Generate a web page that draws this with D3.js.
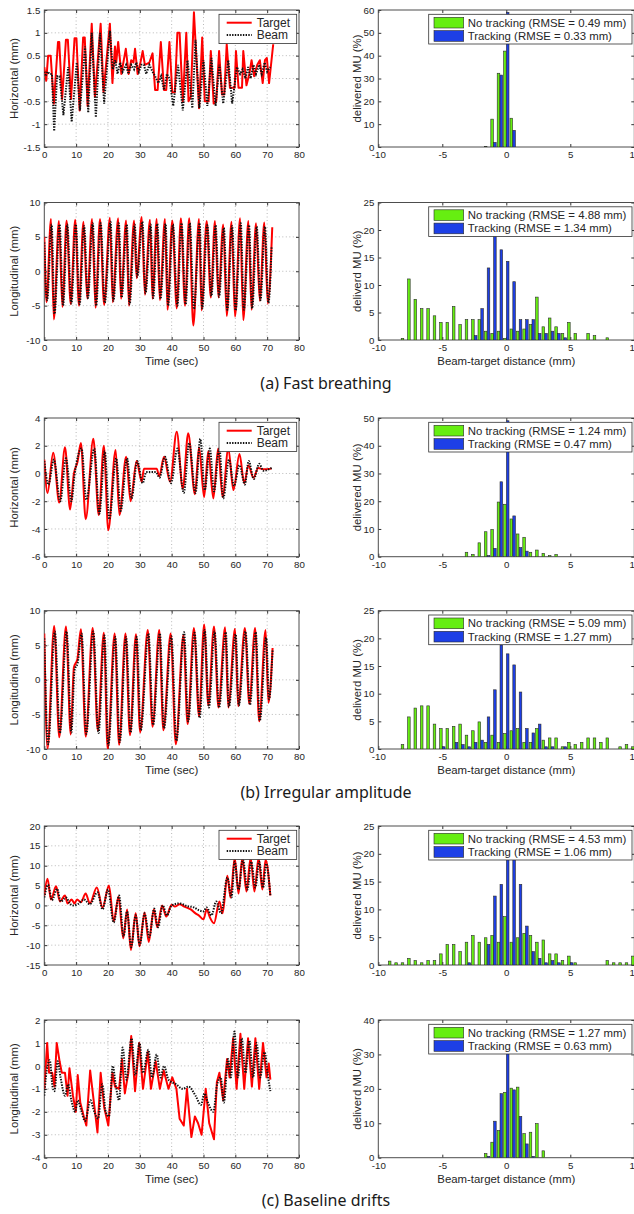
<!DOCTYPE html>
<html>
  <head>
    <meta charset="utf-8">
    <style>
      body { margin: 0; background: #fff; }
      text { font-family: Arial, "Liberation Sans", sans-serif; fill: #262626; }
      .caption { font-family: "Noto Sans", sans-serif; font-size: 16px; fill: #1a1a1a; }
      .grid { stroke: #b8b8b8; stroke-width: 1; stroke-dasharray: 1,2.5; }
    </style>
    <script src="https://cdnjs.cloudflare.com/ajax/libs/d3/7.8.5/d3.min.js" type="text/javascript"></script>
  </head>
  <body>
    <svg width="634" height="1214" id="SVG"></svg>
    <script>
      // shared axis ticks and labels
      var timeTicks = [0, 10, 20, 30, 40, 50, 60, 70, 80];
      var distTicks = [-10, -5, 0, 5, 10];
      var captions = ["(a) Fast breathing", "(b) Irregular amplitude", "(c) Baseline drifts"];
      var motionLabels = ["Horizontal (mm)", "Longitudinal (mm)"];
      var muLabels = ["delivered MU (%)", "deliverd MU (%)"];
      var seriesNames = ["Target", "Beam"];

      // (a) fast breathing, horizontal [time, mm]
      var fastHorTicks = [-1.5, -1, -0.5, 0, 0.5, 1, 1.5];
      var fastHorTarget = [[0,0.25],[0.6,-0.05],[1.2,0.5],[2.0,0.5],[3.0,-0.55],[4.3,0.8],[4.7,0.8],[5.6,-0.45],[6.8,0.85],[7.4,0.85],[8.4,-0.45],[9.5,0.88],[10.1,0.88],[11.1,-0.7],[12.2,0.9],[12.7,0.9],[13.6,-0.6],[14.9,1.2],[15.9,-0.4],[17.7,1.2],[18.6,-0.3],[20.6,1.2],[21.4,-0.1],[22.2,0.7],[22.6,0.35],[23.2,0.8],[24.2,0.1],[25.6,0.65],[26.5,0.1],[27.3,0.4],[28.0,0.35],[28.5,0.65],[29.3,0.1],[30.2,0.35],[30.9,0.6],[31.6,0.3],[33.0,0.35],[34.0,0.55],[34.8,-0.25],[35.6,-0.25],[36.6,0.8],[37.6,-0.25],[38.3,-0.25],[39.3,0.8],[40.2,-0.3],[41.0,-0.3],[41.8,1.0],[42.5,1.0],[43.5,-0.5],[44.6,1.0],[45.3,-0.5],[46.0,-0.4],[47.0,1.45],[48.6,-0.65],[49.6,0.9],[50.4,-0.5],[51.6,-0.5],[52.3,0.6],[53.2,-0.55],[54.0,-0.5],[54.9,0.6],[55.8,-0.35],[56.5,-0.35],[57.3,0.75],[58.3,-0.2],[59.8,-0.2],[60.2,0.6],[61.0,-0.2],[62.1,-0.2],[62.5,0.6],[63.5,-0.15],[64.4,0.1],[65.1,0.4],[65.9,0.05],[66.9,0.3],[67.7,0.4],[68.6,-0.1],[69.3,0.4],[69.9,0.45],[70.6,-0.1],[71.9,0.75]];
      var fastHorBeam = [[0,0.15],[0.4,0.05],[1.0,0.15],[1.7,0.1],[2.4,0.1],[3.1,-1.15],[4.0,0.05],[4.8,0.05],[6.0,-0.8],[7.5,0.25],[8.6,-0.95],[10.2,0.35],[11.2,-0.7],[12.8,0.7],[13.8,-0.75],[14.9,1.0],[16.2,-0.85],[17.5,1.0],[18.8,-0.55],[20.6,1.05],[21.5,0.2],[22.3,0.4],[23.0,0.1],[23.8,0.35],[24.6,0.15],[25.7,0.3],[26.4,0.1],[27.3,0.3],[28.2,0.2],[28.9,0.35],[29.7,0.15],[30.5,0.3],[31.3,0.3],[32.0,0.1],[33.0,0.3],[34.0,0.15],[34.8,0.05],[35.8,-0.1],[36.7,0.05],[37.6,-0.25],[38.5,0.1],[39.3,0.0],[40.5,-0.6],[42.0,0.3],[43.5,-0.7],[45.0,0.4],[46.5,-0.65],[47.5,0.85],[48.7,-0.65],[50.0,0.4],[51.2,-0.6],[52.5,0.45],[53.8,-0.6],[55.0,0.3],[56.2,-0.55],[57.8,0.4],[59.0,-0.55],[60.5,0.25],[61.5,0.1],[62.3,0.2],[63.2,0.0],[64.0,0.25],[64.8,0.0],[65.7,0.3],[66.5,0.1],[67.5,0.3],[68.3,0.1],[69.2,0.35],[70.0,0.15],[71.0,0.25]];

      // (a) fast breathing, longitudinal
      var fastLonTicks = [-10, -5, 0, 5, 10];
      var fastLonTarget = [[0,5],[0.7,-4.5],[2.1,7.6],[3.0,-7.0],[4.6,7.3],[5.7,-5.2],[7.0,7.4],[8.3,-4.8],[9.7,7.5],[10.9,-5.0],[12.3,7.2],[13.5,-4.0],[15.0,7.6],[16.1,-5.3],[17.5,7.6],[18.8,-4.9],[20.6,7.8],[21.5,-4.5],[23.2,7.7],[24.1,-4.0],[25.7,7.4],[26.6,-5.0],[28.2,7.4],[29.0,-1.0],[30.6,7.9],[31.6,-3.4],[33.2,7.5],[34.0,-4.0],[35.3,7.6],[36.3,-4.2],[37.9,7.6],[38.7,-5.6],[40.2,7.4],[41.6,-5.4],[42.9,7.7],[44.2,-5.0],[45.5,7.7],[46.8,-7.9],[48.6,7.6],[49.4,-5.7],[51.0,7.3],[52.3,-3.8],[53.6,7.3],[54.7,-3.8],[56.2,6.8],[57.3,-6.5],[58.8,7.2],[59.9,-6.6],[61.5,7.7],[62.5,-7.1],[64.1,7.3],[65.1,-5.6],[66.5,7.0],[67.7,-4.3],[69.1,7.1],[70.2,-4.7],[71.6,6.4]];
      var fastLonBeam = [[0,4.2],[0.9,-4.2],[2.3,6.8],[3.2,-6.2],[4.8,6.8],[5.9,-5.0],[7.2,6.8],[8.5,-4.7],[9.9,6.8],[11.1,-4.8],[12.5,6.6],[13.7,-3.9],[15.2,7.0],[16.3,-5.0],[17.7,7.0],[19.0,-4.6],[20.8,7.2],[21.7,-4.3],[23.4,7.0],[24.3,-3.8],[25.9,6.8],[26.8,-4.8],[28.4,6.8],[29.2,-0.8],[30.8,7.2],[31.8,-3.2],[33.4,6.8],[34.2,-3.9],[35.5,6.9],[36.5,-4.0],[38.1,6.9],[38.9,-5.0],[40.4,6.8],[41.8,-5.0],[43.1,7.0],[44.4,-4.8],[45.7,7.0],[47.0,-5.5],[48.8,7.0],[49.6,-5.4],[51.2,6.7],[52.5,-3.6],[53.8,6.7],[54.9,-3.7],[56.4,6.3],[57.5,-5.6],[59.0,6.6],[60.1,-5.7],[61.7,7.0],[62.7,-5.6],[64.3,6.7],[65.3,-5.4],[66.7,6.5],[67.9,-4.2],[69.3,6.5],[70.4,-4.6],[71.4,3.5]];

      // (b) irregular amplitude, horizontal
      var irrHorTicks = [-6, -4, -2, 0, 2, 4];
      var irrHorTarget = [[0,1.0],[1.0,-1.4],[2.8,1.5],[4.7,-2.1],[6.5,1.9],[8.1,-2.6],[9.3,0.0],[10.4,0.8],[11.5,2.2],[13.0,-3.3],[15.4,2.5],[17.1,-3.0],[18.7,2.0],[20.1,-4.1],[22.4,1.7],[23.6,-3.0],[25.7,1.2],[27.1,-2.0],[29.0,0.9],[30.6,-0.6],[31.3,0.35],[35.3,0.35],[36.1,-0.2],[37.6,1.2],[39.5,-0.6],[41.6,3.0],[43.5,-1.1],[45.2,2.9],[47.3,-1.5],[48.6,1.9],[50.2,-1.7],[51.5,1.6],[53.1,-1.8],[54.6,1.8],[56.0,-1.7],[57.8,1.8],[59.4,-1.2],[61.3,1.4],[62.8,-0.7],[64.1,0.6],[65.7,-0.3],[67.2,0.4],[68.8,0.3],[71.4,0.35]];
      var irrHorBeam = [[0,0.9],[1.3,-0.8],[3.0,1.0],[5.0,-2.0],[6.8,1.1],[8.5,-2.0],[9.5,-0.1],[11.7,1.8],[13.2,-1.9],[15.7,1.8],[17.3,-2.9],[19.0,1.6],[20.4,-3.3],[22.6,1.1],[24.0,-2.7],[26.0,1.1],[27.4,-1.8],[29.2,0.9],[30.9,-0.7],[32.0,0.1],[35.0,0.1],[36.2,-0.3],[37.9,1.2],[39.8,-0.7],[41.8,1.8],[43.8,-1.4],[45.5,2.2],[47.5,-1.4],[49.0,2.5],[50.4,-1.2],[52.0,1.8],[53.3,-1.3],[55.0,1.8],[56.2,-1.8],[58.0,1.0],[59.6,-0.9],[61.3,0.6],[63.0,-0.8],[64.2,0.9],[65.8,-0.4],[67.5,0.7],[68.8,0.2],[71.4,0.4]];

      // (b) irregular amplitude, longitudinal
      var irrLonTicks = [-10, -5, 0, 5, 10];
      var irrLonTarget = [[0,6.7],[1.0,-10],[3.1,7.8],[4.7,-8.3],[6.8,7.7],[8.3,-7.9],[9.3,1.8],[10.4,3.0],[11.5,7.3],[13.0,-8.2],[15.2,7.5],[16.8,-7.3],[18.7,6.8],[19.9,-10],[22.1,6.7],[23.5,-9.4],[25.5,6.7],[26.9,-8.0],[28.8,6.6],[30.1,-7.6],[32.5,7.2],[34.0,-6.8],[36.1,7.2],[37.4,-7.3],[39.7,6.7],[41.3,-9.3],[43.7,6.5],[45.0,-6.4],[47.0,7.5],[48.6,-5.3],[50.2,8.0],[51.5,-3.7],[53.3,7.7],[54.7,-4.0],[56.8,7.6],[57.8,-4.0],[59.9,7.4],[60.9,-3.8],[63.0,7.5],[64.4,-3.5],[66.2,7.5],[67.5,-6.0],[69.5,7.2],[70.4,-3.3],[71.7,4.6]];
      var irrLonBeam = [[0,6.0],[1.2,-9.3],[3.3,7.0],[4.9,-7.7],[7.0,7.0],[8.5,-7.6],[9.5,1.4],[10.5,2.5],[11.7,6.7],[13.2,-7.8],[15.4,7.0],[17.0,-7.7],[18.9,6.4],[20.1,-9.5],[22.3,6.2],[23.7,-9.0],[25.7,6.2],[27.1,-7.6],[29.0,6.2],[30.3,-7.3],[32.7,6.7],[34.2,-6.5],[36.3,6.7],[37.6,-7.0],[39.9,6.3],[41.5,-8.8],[43.9,6.9],[45.2,-6.0],[47.2,6.8],[48.8,-5.5],[50.4,7.2],[51.7,-4.0],[53.5,7.0],[54.9,-4.0],[57.0,6.9],[58.0,-3.9],[60.1,6.6],[61.1,-3.7],[63.2,7.0],[64.6,-3.6],[66.4,6.9],[67.7,-5.9],[69.7,6.1],[70.6,-2.8],[71.7,4.3]];

      // (c) baseline drifts, horizontal
      var driftHorTicks = [-15, -10, -5, 0, 5, 10, 15, 20];
      var driftHorTarget = [[0,2.5],[1.0,6.7],[2.1,1.5],[3.7,4.8],[4.9,1.0],[6.5,2.5],[7.3,0.5],[8.6,1.5],[9.5,0.5],[10.3,1.5],[11.5,0.8],[13.0,3.0],[14.3,0.5],[16.5,4.5],[18.3,-0.5],[20.3,5.0],[21.8,-4.0],[23.3,2.2],[24.8,-8.3],[26.0,-1.0],[27.2,-11.2],[28.7,-2.0],[29.9,-10.3],[31.5,-1.8],[32.8,-9.2],[34.4,-1.0],[35.5,-5.5],[37.0,0.0],[38.3,-2.8],[40.0,0.2],[41.0,-0.3],[42.5,0.3],[44.0,-0.3],[46.0,-1.0],[47.5,-2.0],[48.5,-2.5],[50.0,-3.5],[51.0,-1.0],[52.0,-3.0],[53.3,-4.5],[55.0,1.0],[56.0,-2.0],[57.5,7.5],[58.5,2.0],[59.8,12],[61.0,3.0],[62.2,12],[63.5,3.5],[64.8,12],[66.0,3.5],[67.3,12],[68.5,4.0],[69.5,11.5],[71.0,2.5]];
      var driftHorBeam = [[0,2.0],[1.2,5.2],[2.4,1.3],[4.0,4.2],[5.2,1.0],[6.8,2.0],[8.0,0.5],[9.0,0.0],[10.5,0.3],[12.5,1.5],[14.3,0.3],[16.7,3.3],[18.3,-1.0],[20.0,4.0],[21.8,-4.3],[23.5,2.5],[24.9,-7.8],[26.0,-1.5],[27.3,-10.5],[28.7,-2.5],[30.0,-10.0],[31.5,-2.0],[33.0,-8.0],[34.5,-0.8],[35.7,-5.5],[37.2,0.0],[38.5,-2.5],[40.0,0.0],[42.5,0.5],[45.0,-0.2],[47.0,-0.5],[48.5,-1.2],[50.0,-1.5],[51.0,-0.5],[52.5,-2.5],[54.0,1.0],[55.5,-2.0],[57.5,7.0],[58.8,2.0],[59.8,11.0],[61.0,4.0],[62.4,11.5],[63.8,4.0],[65.0,11.0],[66.3,4.5],[67.5,11.0],[68.7,4.5],[69.7,10.5],[71.0,2.5]];

      // (c) baseline drifts, longitudinal
      var driftLonTicks = [-4, -3, -2, -1, 0, 1, 2];
      var driftLonTarget = [[0,-1.0],[0.9,1.0],[1.5,-0.3],[2.5,-0.3],[3.2,-0.9],[3.9,1.0],[4.8,0.2],[5.5,-0.3],[6.5,-0.3],[7.3,-1.3],[7.9,-0.1],[9.0,-1.3],[9.9,-2.0],[10.5,-0.4],[11.3,-1.6],[12.4,-2.2],[13.2,-2.6],[14.4,-0.2],[15.5,-1.5],[16.7,-2.9],[17.7,-0.3],[18.8,-1.8],[20.1,-2.6],[21.4,-0.3],[22.2,-0.9],[23.5,-1.0],[24.4,0.3],[25.3,-1.2],[26.4,-0.3],[27.3,1.3],[28.5,-1.1],[29.8,1.0],[31.0,-1.0],[32.5,0.6],[33.5,-1.0],[35.0,0.2],[36.3,-1.0],[37.5,-0.2],[39.0,-1.0],[40.2,-0.5],[41.5,-1.0],[42.5,-2.3],[43.8,-2.6],[44.8,-1.0],[46.2,-3.1],[47.3,-2.2],[48.3,-2.5],[49.4,-3.0],[50.7,-1.0],[51.8,-2.5],[53.3,-3.2],[54.2,-0.7],[55.0,-0.3],[56.2,-1.5],[57.4,0.3],[58.2,-0.5],[59.3,1.2],[60.4,-1.0],[61.6,1.4],[62.8,-1.0],[64.0,1.2],[65.2,-0.9],[66.3,1.2],[67.5,-1.0],[68.7,1.0],[69.8,-0.5],[70.5,0.1],[71.0,-0.6]];
      var driftLonBeam = [[0,-1.3],[0.5,-0.5],[1.7,0.25],[2.6,-0.9],[3.2,-1.1],[4.2,0.2],[5.1,-0.5],[6.5,-1.3],[7.5,-0.8],[8.5,-1.5],[9.7,-2.0],[10.5,-1.5],[11.5,-1.9],[12.8,-2.4],[14.5,-1.5],[15.7,-2.0],[16.9,-2.3],[18.2,-0.8],[19.3,-2.0],[20.3,-2.2],[21.5,0.0],[22.4,-0.8],[23.5,-1.5],[24.6,0.8],[25.8,-0.6],[27.4,1.2],[28.6,-0.4],[29.9,1.0],[31.0,-0.3],[32.7,0.7],[33.8,-0.5],[35.3,0.5],[36.5,-0.5],[37.6,0.0],[39.0,-0.6],[41.4,-0.8],[43.5,-1.0],[45.3,-0.9],[47.5,-1.3],[49.2,-1.7],[50.3,-1.2],[51.4,-1.6],[53.1,-2.0],[54.3,-0.8],[55.4,-0.5],[56.4,-1.6],[57.7,0.3],[58.6,-0.5],[59.7,1.5],[60.8,-0.5],[62.0,1.2],[63.2,-0.3],[64.4,1.1],[65.6,-0.5],[66.7,1.0],[67.8,-0.5],[69.2,0.6],[70.2,-0.4],[71.0,-1.1]];

      // histograms of beam-target distance: bin centre (mm), delivered MU (%)
      var fastHorBins = [-1.5, -1, -0.5, 0, 0.5];
      var fastHorNoTrack = [0.3, 12.2, 32.3, 42, 12.6];
      var fastHorTrack = [0, 2, 31.5, 59, 7.3];
      var fastHorMU = [0, 10, 20, 30, 40, 50, 60];
      var fastHorRmse = ["0.49", "0.33"];

      var fastLonBins = [-8,-7.5,-7,-6.5,-6,-5.5,-5,-4.5,-4,-3.5,-3,-2.5,-2,-1.5,-1,-0.5,0,0.5,1,1.5,2,2.5,3,3.5,4,4.5,5,5.5,6,6.5,7,7.5,8];
      var fastLonNoTrack = [0.3,11.1,7.4,5.7,5.7,4.4,3.2,3.2,6.1,2.8,3.7,3.7,3.7,1.6,1.2,1.6,0.3,2.0,1.6,2.0,2.8,7.8,2.4,4.0,2.4,1.2,3.2,1.2,0,1.2,0.8,0,0.4];
      var fastLonTrack = [0,0,0,0,0,0,0,0,0,0,0,0.8,5.7,13.1,18.8,16.4,14.3,10.6,3.7,3.7,3.7,1.2,1.2,1.6,1.2,0.4,0,0,0,0,0,0,0];
      var fastLonMU = [0, 5, 10, 15, 20, 25];
      var fastLonRmse = ["4.88", "1.34"];

      var irrHorBins = [-3,-2.5,-2,-1.5,-1,-0.5,0,0.5,1,1.5,2,2.5,3,3.5,4];
      var irrHorNoTrack = [1.6,0.8,5.0,9.0,9.8,19.7,18.9,13.6,8.2,7.0,1.6,2.4,1.2,0.4,0.8];
      var irrHorTrack = [0,0,0,0.4,3.0,27,49,14.7,3.3,2.0,0,0,0,0,0];
      var irrHorMU = [0, 10, 20, 30, 40, 50];
      var irrHorRmse = ["1.24", "0.47"];

      var irrLonBins = [-8,-7.5,-7,-6.5,-6,-5.5,-5,-4.5,-4,-3.5,-3,-2.5,-2,-1.5,-1,-0.5,0,0.5,1,1.5,2,2.5,3,3.5,4,4.5,5,5.5,6,6.5,7,7.5,8,8.5,9,9.5,10];
      var irrLonNoTrack = [0.8,5.8,7.4,7.8,7.8,4.5,3.7,3.7,4.1,4.5,2.5,3.3,4.9,1.2,2.5,1.2,2.8,3.3,3.7,1.2,1.2,3.7,1.6,2.0,2.0,0.4,1.2,0.8,1.2,2.0,2.0,1.2,2.0,0,0.4,0.8,0.4];
      var irrLonTrack = [0,0,0,0,0,0,0.4,0,1.2,0.8,0.4,1.2,1.6,5.8,10.7,18.8,17.2,15.2,10.3,3.7,2.9,4.5,0.4,0.4,0,0.4,0,0,0,0,0,0,0,0,0,0,0];
      var irrLonMU = [0, 5, 10, 15, 20, 25];
      var irrLonRmse = ["5.09", "1.27"];

      var driftHorBins = [-9,-8.5,-8,-7.5,-7,-6.5,-6,-5.5,-5,-4.5,-4,-3.5,-3,-2.5,-2,-1.5,-1,-0.5,0,0.5,1,1.5,2,2.5,3,3.5,4,4.5,5,5.5,6,6.5,7,7.5,8,8.5,9,9.5,10];
      var driftHorNoTrack = [0.7,0.4,0.4,1.2,0.8,0.4,0.8,0.8,2.0,3.7,3.7,2.4,4.1,5.3,4.1,4.9,5.3,4.1,8.7,4.1,4.9,5.7,5.3,4.1,4.5,2.0,2.0,0.8,1.6,0.4,0,0,0,0,0.8,0.4,0.4,0.4,1.6];
      var driftHorTrack = [0,0,0,0,0,0,0,0,0,0,0,0,0.4,0,0,3.7,12.4,14.5,21.5,21.5,14.5,7.0,2.4,1.2,0.4,0.8,0.4,0,0.4,0,0,0,0,0,0,0,0,0,0];
      var driftHorMU = [0, 5, 10, 15, 20, 25];
      var driftHorRmse = ["4.53", "1.06"];

      var driftLonBins = [-1.5,-1,-0.5,0,0.5,1,1.5,2,2.5,3];
      var driftLonNoTrack = [1.2,4.5,7.9,19.0,20.2,20.5,7.0,7.4,9.9,2.0];
      var driftLonTrack = [0.4,10.6,18.6,32,19.7,12,4.0,0.4,0,0];
      var driftLonMU = [0, 10, 20, 30, 40];
      var driftLonRmse = ["1.27", "0.63"];

      var targetColor = "#ff0000", beamColor = "#111111";
      var noTrackColor = "#66ee11", trackColor = "#1d3fe6";

      var svg = d3.select("#SVG");
      var leftRange = [44.3, 299], rightRange = [378.3, 634.3];
      var rowBox = [[10, 147], [202.5, 340], [418, 556.7], [610.7, 749], [826, 965], [1020, 1157.7]];

      var panels = [
        { target: fastHorTarget, beam: fastHorBeam, ticks: fastHorTicks, curveT: d3.curveLinear, curveB: d3.curveLinear,
          bins: fastHorBins, g: fastHorNoTrack, b: fastHorTrack, mu: fastHorMU, rmse: fastHorRmse },
        { target: fastLonTarget, beam: fastLonBeam, ticks: fastLonTicks, curveT: d3.curveMonotoneX, curveB: d3.curveMonotoneX,
          bins: fastLonBins, g: fastLonNoTrack, b: fastLonTrack, mu: fastLonMU, rmse: fastLonRmse },
        { target: irrHorTarget, beam: irrHorBeam, ticks: irrHorTicks, curveT: d3.curveMonotoneX, curveB: d3.curveMonotoneX,
          bins: irrHorBins, g: irrHorNoTrack, b: irrHorTrack, mu: irrHorMU, rmse: irrHorRmse },
        { target: irrLonTarget, beam: irrLonBeam, ticks: irrLonTicks, curveT: d3.curveMonotoneX, curveB: d3.curveMonotoneX,
          bins: irrLonBins, g: irrLonNoTrack, b: irrLonTrack, mu: irrLonMU, rmse: irrLonRmse },
        { target: driftHorTarget, beam: driftHorBeam, ticks: driftHorTicks, curveT: d3.curveMonotoneX, curveB: d3.curveMonotoneX,
          bins: driftHorBins, g: driftHorNoTrack, b: driftHorTrack, mu: driftHorMU, rmse: driftHorRmse },
        { target: driftLonTarget, beam: driftLonBeam, ticks: driftLonTicks, curveT: d3.curveLinear, curveB: d3.curveMonotoneX,
          bins: driftLonBins, g: driftLonNoTrack, b: driftLonTrack, mu: driftLonMU, rmse: driftLonRmse }
      ];

      function styleAxis(g) {
        g.select(".domain").remove();
        g.attr("font-size", 9.7).attr("font-family", "Arial, 'Liberation Sans', sans-serif").attr("color", "#333");
      }

      // frame, inward ticks on four sides, optional dotted grid
      function drawFrame(g, x, y, xTicks, yTicks, grid, id) {
        var xl = x.range()[0], xr = x.range()[1], yb = y.range()[0], yt = y.range()[1];
        if (grid) {
          g.append("g").selectAll("line").data(xTicks.slice(1, -1)).join("line")
           .attr("class", "grid")
           .attr("x1", function(d) { return x(d) }).attr("x2", function(d) { return x(d) })
           .attr("y1", yt).attr("y2", yb);
          g.append("g").selectAll("line").data(yTicks.slice(1, -1)).join("line")
           .attr("class", "grid")
           .attr("y1", function(d) { return y(d) }).attr("y2", function(d) { return y(d) })
           .attr("x1", xl).attr("x2", xr);
        }
        var fmt = function(d) { return String(d) };
        g.append("g").attr("transform", "translate(0," + yb + ")")
         .call(d3.axisBottom(x).tickValues(xTicks).tickFormat(fmt).tickSizeInner(-3).tickSizeOuter(0).tickPadding(4.5))
         .call(styleAxis);
        g.append("g").attr("transform", "translate(0," + yt + ")")
         .call(d3.axisTop(x).tickValues(xTicks).tickFormat("").tickSizeInner(-3).tickSizeOuter(0))
         .call(styleAxis);
        g.append("g").attr("transform", "translate(" + xl + ",0)")
         .call(d3.axisLeft(y).tickValues(yTicks).tickFormat(fmt).tickSizeInner(-3).tickSizeOuter(0).tickPadding(4))
         .call(styleAxis);
        g.append("g").attr("transform", "translate(" + xr + ",0)")
         .call(d3.axisRight(y).tickValues(yTicks).tickFormat("").tickSizeInner(-3).tickSizeOuter(0))
         .call(styleAxis);
        g.append("rect").attr("x", xl).attr("y", yt).attr("width", xr - xl).attr("height", yb - yt)
         .attr("fill", "none").attr("stroke", "#4d4d4d").attr("stroke-width", 1);
        g.append("clipPath").attr("id", id).append("rect")
         .attr("x", xl).attr("y", yt).attr("width", xr - xl).attr("height", yb - yt);
      }

      function yLabel(g, text, x, yMid) {
        g.append("text").attr("transform", "translate(" + x + "," + yMid + ") rotate(-90)")
         .attr("text-anchor", "middle").attr("font-size", 11.4).text(text);
      }

      panels.forEach(function(p, i) {
        var box = rowBox[i];
        var yMid = (box[0] + box[1]) / 2;
        var isLon = i % 2 === 1;

        // time trace
        var gl = svg.append("g");
        var x = d3.scaleLinear().domain([timeTicks[0], timeTicks[timeTicks.length - 1]]).range(leftRange);
        var y = d3.scaleLinear().domain([p.ticks[0], p.ticks[p.ticks.length - 1]]).range([box[1], box[0]]);
        drawFrame(gl, x, y, timeTicks, p.ticks, true, "clipL" + i);
        var lines = gl.append("g").attr("clip-path", "url(#clipL" + i + ")");
        lines.append("path").datum(p.target)
             .attr("d", d3.line().x(function(d) { return x(d[0]) }).y(function(d) { return y(d[1]) }).curve(p.curveT))
             .attr("fill", "none").attr("stroke", targetColor).attr("stroke-width", 2).attr("stroke-linejoin", "round");
        lines.append("path").datum(p.beam)
             .attr("d", d3.line().x(function(d) { return x(d[0]) }).y(function(d) { return y(d[1]) }).curve(p.curveB))
             .attr("fill", "none").attr("stroke", beamColor).attr("stroke-width", 2).attr("stroke-dasharray", "1.4,1.3");
        yLabel(gl, motionLabels[i % 2], 18, yMid);
        if (isLon) {
          gl.append("text").attr("x", (leftRange[0] + leftRange[1]) / 2).attr("y", box[1] + 25)
            .attr("text-anchor", "middle").attr("font-size", 11.4).text("Time (sec)");
        } else {
          var lg = gl.append("g").attr("transform", "translate(" + (leftRange[1] - 2.3 - 77.7) + "," + (box[0] + 4.3) + ")");
          lg.append("rect").attr("width", 77.7).attr("height", 29.3).attr("fill", "#fff").attr("stroke", "#333").attr("stroke-width", 0.8);
          lg.append("line").attr("x1", 7.7).attr("x2", 32.7).attr("y1", 8.4).attr("y2", 8.4)
            .attr("stroke", targetColor).attr("stroke-width", 2);
          lg.append("line").attr("x1", 7.7).attr("x2", 32.7).attr("y1", 20.7).attr("y2", 20.7)
            .attr("stroke", beamColor).attr("stroke-width", 2).attr("stroke-dasharray", "1.4,1.3");
          seriesNames.forEach(function(s, k) {
            lg.append("text").attr("x", 37.7).attr("y", 12.6 + k * 12.3).attr("font-size", 12).text(s);
          });
        }

        // histogram
        var gr = svg.append("g");
        var hx = d3.scaleLinear().domain([distTicks[0], distTicks[distTicks.length - 1]]).range(rightRange);
        var hy = d3.scaleLinear().domain([p.mu[0], p.mu[p.mu.length - 1]]).range([box[1], box[0]]);
        drawFrame(gr, hx, hy, distTicks, p.mu, false, "clipR" + i);
        var bw = 0.2, off = 0.11;
        var bars = gr.append("g").attr("clip-path", "url(#clipR" + i + ")");
        [[p.g, -off, noTrackColor], [p.b, off, trackColor]].forEach(function(s) {
          var pts = p.bins.map(function(c, k) { return { c: c, v: s[0][k] } }).filter(function(d) { return d.v > 0 });
          bars.append("g").selectAll("rect").data(pts).join("rect")
              .attr("x", function(d) { return hx(d.c + s[1] - bw / 2) })
              .attr("width", hx(bw) - hx(0))
              .attr("y", function(d) { return hy(d.v) })
              .attr("height", function(d) { return hy(0) - hy(d.v) })
              .attr("fill", s[2]).attr("stroke", "#2a2a2a").attr("stroke-width", 0.6);
        });
        yLabel(gr, muLabels[i % 2], 360.5, yMid);
        if (isLon) {
          gr.append("text").attr("x", (rightRange[0] + rightRange[1]) / 2).attr("y", box[1] + 25)
            .attr("text-anchor", "middle").attr("font-size", 11.4).text("Beam-target distance (mm)");
        }
        var hl = gr.append("g").attr("transform", "translate(" + (rightRange[1] - 2.3 - 203.3) + "," + (box[0] + 4.3) + ")");
        hl.append("rect").attr("width", 203.3).attr("height", 29.7).attr("fill", "#fff").attr("stroke", "#333").attr("stroke-width", 0.8);
        var legendText = ["No tracking (RMSE = " + p.rmse[0] + " mm)", "Tracking (RMSE = " + p.rmse[1] + " mm)"];
        [noTrackColor, trackColor].forEach(function(c, k) {
          hl.append("rect").attr("x", 5.3).attr("y", 3 + k * 13.3).attr("width", 29.7).attr("height", 10.7)
            .attr("fill", c).attr("stroke", "#2a2a2a").attr("stroke-width", 0.6);
          hl.append("text").attr("x", 39).attr("y", 12.4 + k * 13.3).attr("font-size", 11.4).text(legendText[k]);
        });

        if (isLon) {
          svg.append("text").attr("class", "caption").attr("x", 326).attr("y", box[1] + 48.5)
             .attr("text-anchor", "middle").text(captions[(i - 1) / 2]);
        }
      });
    </script>
  </body>
</html>
